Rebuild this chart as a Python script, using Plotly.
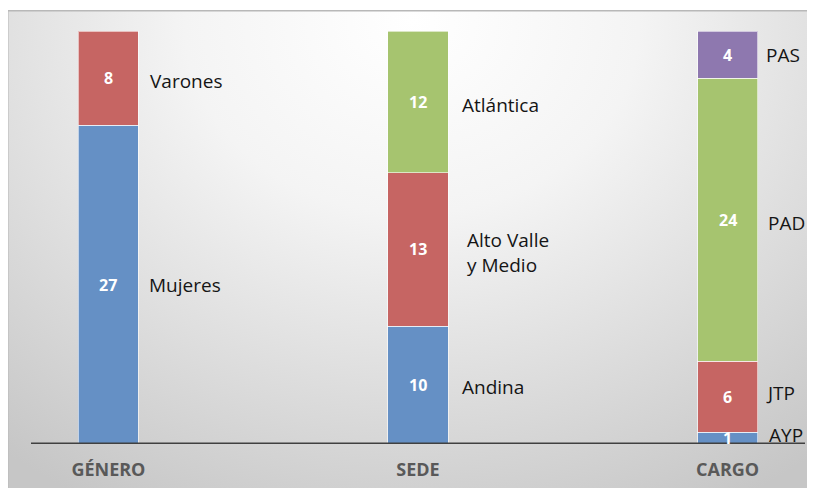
import base64
import plotly.graph_objects as go

categories = ["GÉNERO", "SEDE", "CARGO"]

# segments, bottom to top within each category
seg_category = ["GÉNERO", "GÉNERO", "SEDE", "SEDE", "SEDE", "CARGO", "CARGO", "CARGO", "CARGO"]
seg_label = ["Mujeres", "Varones", "Andina", "Alto Valle<br>y Medio", "Atlántica", "AYP", "JTP", "PAD", "PAS"]
seg_value = [27, 8, 10, 13, 12, 1, 6, 24, 4]
seg_color = ["#6590C5", "#C66563", "#6590C5", "#C66563", "#A6C46F", "#6590C5", "#C66563", "#A6C46F", "#8E78AF"]
# label placement tweaks (px): gap from bar edge, vertical shift
label_gap = [9, 10, 12, 17, 12, 9, 6, 8, 6]
label_dy = [0, -3, -2, -3, -3, 3, 4, -3, 0]

OFF = 8  # page body margin
W_PX, H_PX = 815 - OFF, 488 - OFF
L, R, T, B = 31 - OFF, W_PX - (805 - OFF), 31 - OFF, H_PX - (444 - OFF)
PW = W_PX - L - R
PH = H_PX - T - B
BAR_W = 0.194
BAR_HALF_PX = BAR_W / 2 * PW / 2.5

fig = go.Figure()
for cat, lab, val, col in zip(seg_category, seg_label, seg_value, seg_color):
    fig.add_trace(go.Bar(
        x=[cat], y=[val], name=lab.replace("<br>", " "),
        marker=dict(color=col, line=dict(color="rgba(255,255,255,0.6)", width=1)),
        width=BAR_W, hoverinfo="skip", showlegend=False,
    ))

cum = {}
for cat, lab, val, gap, dy in zip(seg_category, seg_label, seg_value, label_gap, label_dy):
    base = cum.get(cat, 0)
    mid = base + val / 2
    cum[cat] = base + val
    xi = categories.index(cat)
    fig.add_annotation(
        x=xi, y=mid, xref="x", yref="y", text=f"<b>{val}</b>", showarrow=False,
        xanchor="center", yanchor="middle",
        font=dict(family="Open Sans", size=16, color="white"),
    )
    fig.add_annotation(
        x=xi, y=mid, xref="x", yref="y", text=lab, showarrow=False,
        xanchor="left", yanchor="middle", align="left",
        xshift=BAR_HALF_PX + gap, yshift=dy,
        font=dict(family="Open Sans", size=19, color="#151515"),
    )

svg = '''<svg xmlns="http://www.w3.org/2000/svg" width="808" height="478" viewBox="0 0 808 478" preserveAspectRatio="none">
<defs><radialGradient id="g" cx="0.5" cy="0.05" r="0.8" fx="0.5" fy="0.03" gradientTransform="translate(0.5 0.05) scale(1 1.4) translate(-0.5 -0.05)">
<stop offset="0" stop-color="#ffffff"/><stop offset="0.35" stop-color="#f4f4f4"/><stop offset="1" stop-color="#c6c6c6"/></radialGradient></defs>
<rect x="0" y="0" width="808" height="478" fill="url(#g)"/>
<rect x="0" y="0" width="808" height="1.5" fill="#b8b8b8"/>
<rect x="0" y="0" width="1.5" height="478" fill="#b8b8b8"/>
</svg>'''
src = "data:image/svg+xml;base64," + base64.b64encode(svg.encode()).decode()

img_x0_px, img_y0_px = 7 - OFF, 10 - OFF
fig.add_layout_image(
    source=src, xref="paper", yref="paper",
    x=(img_x0_px - L) / PW, y=(H_PX - B - img_y0_px) / PH,
    sizex=(W_PX + 2 - img_x0_px) / PW, sizey=(H_PX + 2 - img_y0_px) / PH,
    xanchor="left", yanchor="top", sizing="stretch", layer="below",
)

fig.update_layout(
    barmode="stack",
    width=W_PX, height=H_PX,
    margin=dict(l=L, r=R, t=T, b=B, autoexpand=False),
    paper_bgcolor="white", plot_bgcolor="rgba(0,0,0,0)",
    xaxis=dict(range=[-0.25, 2.25], showgrid=False, zeroline=False, automargin=False,
               showline=False, ticks="", ticklabelstandoff=13,
               tickfont=dict(family="Open Sans", size=18, color="#595959", weight="bold"),
               tickvals=[0, 1, 2], ticktext=categories, categoryorder="array", categoryarray=categories),
    yaxis=dict(range=[0, 35], showgrid=False, zeroline=False, showticklabels=False, showline=False,
               automargin=False),
    shapes=[dict(type="line", xref="paper", yref="y", x0=0, x1=1, y0=0, y1=0,
                 line=dict(color="#404040", width=3), layer="above")],
)
fig.write_html("out.html")
